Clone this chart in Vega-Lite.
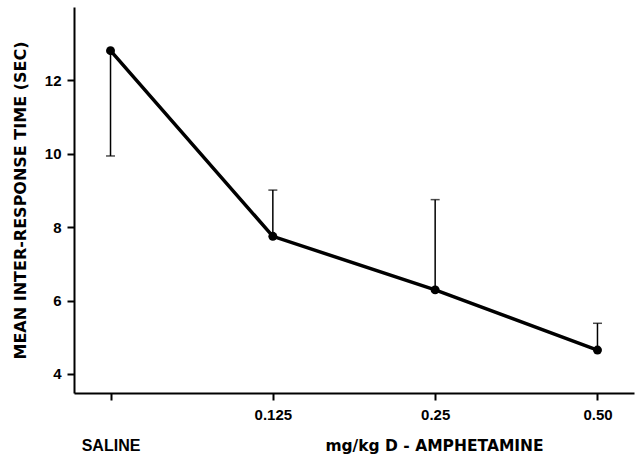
{
  "$schema": "https://vega.github.io/schema/vega-lite/v6.json",
  "autosize": "none",
  "width": 560,
  "height": 386,
  "padding": {"left": 74, "top": 7, "right": 2, "bottom": 61},
  "background": "white",
  "config": {
    "view": {"stroke": null},
    "font": "DejaVu Sans",
    "axis": {
      "domainColor": "black",
      "domainWidth": 2,
      "tickColor": "black",
      "tickWidth": 2,
      "tickSize": 7,
      "grid": false,
      "labelColor": "black",
      "titleColor": "black",
      "labelFont": "Liberation Sans",
      "titleFont": "DejaVu Sans",
      "labelFontSize": 15,
      "titleFontSize": 15,
      "labelFontWeight": "bold",
      "titleFontWeight": "bold"
    }
  },
  "data": {
    "values": [
      {"dose": "SALINE", "mean": 12.81, "lo": 9.94, "hi": 12.81, "cap": 9.94},
      {"dose": "0.125", "mean": 7.75, "lo": 7.75, "hi": 9.01, "cap": 9.01},
      {"dose": "0.25", "mean": 6.29, "lo": 6.29, "hi": 8.75, "cap": 8.75},
      {"dose": "0.50", "mean": 4.65, "lo": 4.65, "hi": 5.38, "cap": 5.38}
    ]
  },
  "encoding": {
    "x": {
      "field": "dose",
      "type": "ordinal",
      "sort": ["SALINE", "0.125", "0.25", "0.50"],
      "scale": {"type": "point", "padding": 0.225},
      "axis": {
        "labelAngle": 0,
        "labelPadding": 7,
        "labelLineHeight": 30,
        "labelBaseline": "top",
        "labelFontSize": {"condition": {"test": "datum.value == 'SALINE'", "value": 16}, "value": 15},
        "labelExpr": "datum.value == 'SALINE' ? ['', 'SALINE'] : datum.value",
        "title": "mg/kg D - AMPHETAMINE",
        "titleFontSize": 15.5,
        "titleX": 360,
        "titleY": 52,
        "titleAlign": "center",
        "titleBaseline": "middle"
      }
    }
  },
  "layer": [
    {
      "mark": {"type": "rule", "color": "black", "strokeWidth": 1.5},
      "encoding": {
        "y": {"field": "lo", "type": "quantitative"},
        "y2": {"field": "hi"}
      }
    },
    {
      "mark": {"type": "tick", "color": "black", "size": 9, "thickness": 1.5, "orient": "horizontal"},
      "encoding": {
        "y": {"field": "cap", "type": "quantitative"}
      }
    },
    {
      "mark": {"type": "line", "color": "black", "strokeWidth": 3.5},
      "encoding": {
        "y": {
          "field": "mean",
          "type": "quantitative",
          "scale": {"domain": [3.48, 14], "nice": false, "zero": false},
          "axis": {
            "values": [4, 6, 8, 10, 12],
            "title": "MEAN INTER-RESPONSE TIME (SEC)",
            "titleFontSize": 16,
            "labelPadding": 6,
            "titlePadding": 16
          }
        }
      }
    },
    {
      "mark": {"type": "point", "filled": true, "color": "black", "size": 80, "opacity": 1},
      "encoding": {
        "y": {"field": "mean", "type": "quantitative"}
      }
    }
  ]
}
